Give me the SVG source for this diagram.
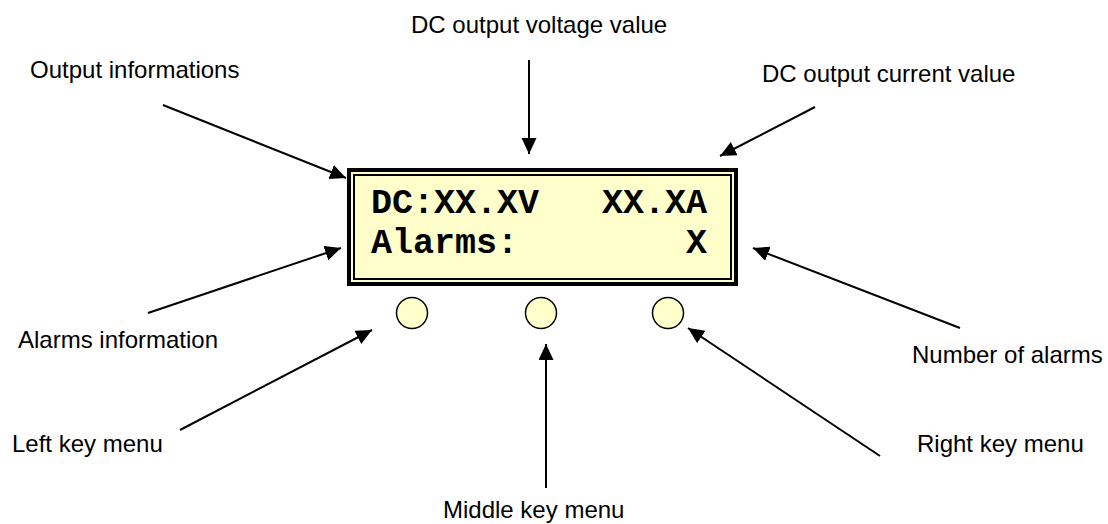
<svg xmlns="http://www.w3.org/2000/svg" width="1108" height="524" viewBox="0 0 1108 524">
<style>
.lbl{font-family:"Liberation Sans",Arial,sans-serif;font-size:24px;fill:#000}
.lcd{font-family:"Liberation Mono","Courier New",monospace;font-size:35px;font-weight:bold;fill:#000;white-space:pre}
.con{stroke:#000;stroke-width:2;fill:none;marker-end:url(#ah)}
.key{fill:#FFFFCC;stroke:#000;stroke-width:1.5}
</style>
<defs>
<marker id="ah" markerUnits="userSpaceOnUse" markerWidth="18" markerHeight="16" refX="16" refY="7.5" orient="auto">
<path d="M0,0 L16,7.5 L0,15 Z" fill="#000"/>
</marker>
</defs>
<rect width="1108" height="524" fill="#fff"/>
<g id="display">
<rect x="349" y="170" width="387" height="114" fill="#FFFFCC" stroke="#000" stroke-width="4"/>
<rect x="354" y="175" width="377" height="104" fill="none" stroke="#000" stroke-width="2"/>
<text class="lcd" x="371" y="213" xml:space="preserve">DC:XX.XV   XX.XA</text>
<text class="lcd" x="371" y="253" xml:space="preserve">Alarms:        X</text>
</g>
<g id="key-left"><circle class="key" cx="412" cy="313" r="15.5"/></g>
<g id="key-middle"><circle class="key" cx="541" cy="313" r="15.5"/></g>
<g id="key-right"><circle class="key" cx="668" cy="313" r="15.5"/></g>
<g id="label-output"><text class="lbl" x="30" y="78">Output informations</text></g>
<g id="label-voltage"><text class="lbl" x="411" y="33">DC output voltage value</text></g>
<g id="label-current"><text class="lbl" x="762" y="82">DC output current value</text></g>
<g id="label-alarms"><text class="lbl" x="18" y="348">Alarms information</text></g>
<g id="label-number"><text class="lbl" x="912" y="363">Number of alarms</text></g>
<g id="label-left"><text class="lbl" x="12" y="452">Left key menu</text></g>
<g id="label-middle"><text class="lbl" x="443" y="518">Middle key menu</text></g>
<g id="label-right"><text class="lbl" x="917" y="452">Right key menu</text></g>
<g id="connectors">
<line class="con" x1="163" y1="105" x2="346" y2="178"/>
<line class="con" x1="529" y1="60" x2="529" y2="154"/>
<line class="con" x1="815" y1="107" x2="720" y2="156"/>
<line class="con" x1="148" y1="313" x2="341" y2="248"/>
<line class="con" x1="960" y1="328" x2="753" y2="248"/>
<line class="con" x1="180" y1="430" x2="372" y2="330"/>
<line class="con" x1="546" y1="488" x2="546" y2="344"/>
<line class="con" x1="880" y1="456" x2="688" y2="328"/>
</g>
</svg>
